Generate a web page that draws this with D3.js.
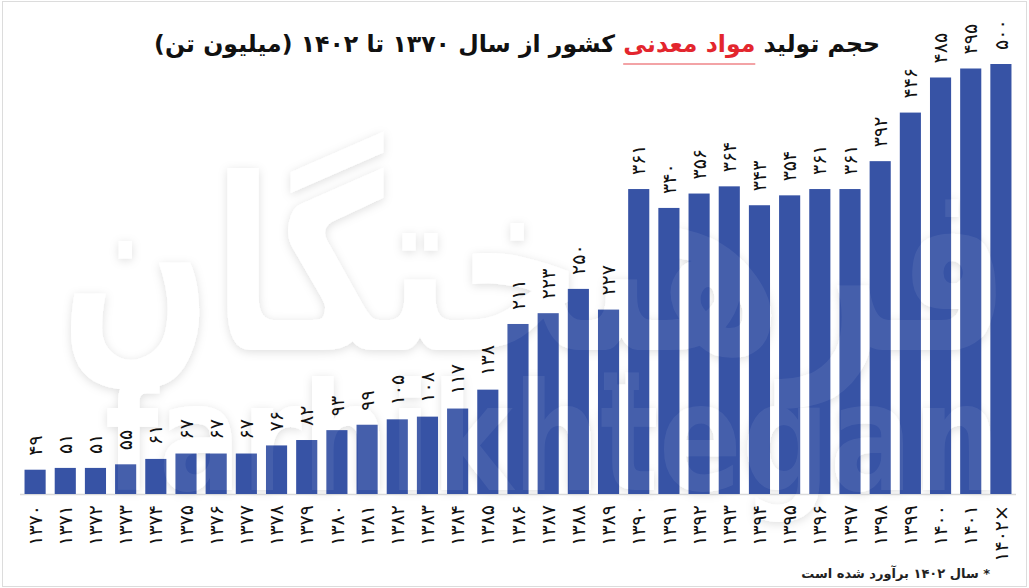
<!DOCTYPE html>
<html>
<head>
<meta charset="utf-8">
<script src="https://cdn.jsdelivr.net/npm/d3@7"></script>
<style>
  html, body { margin: 0; padding: 0; background: #fff; }
  svg { display: block; font-family: "DejaVu Sans", sans-serif; }
</style>
</head>
<body>
<svg id="chart" width="1029" height="588"></svg>
<script>
// years (x categories) and production, million tonnes
const years = [1370, 1371, 1372, 1373, 1374, 1375, 1376, 1377, 1378, 1379, 1380,
  1381, 1382, 1383, 1384, 1385, 1386, 1387, 1388, 1389, 1390, 1391, 1392,
  1393, 1394, 1395, 1396, 1397, 1398, 1399, 1400, 1401, 1402];
const values = [49, 51, 51, 55, 61, 67, 67, 67, 76, 82, 93,
  99, 105, 108, 117, 138, 211, 223, 250, 227, 361, 340, 356,
  364, 343, 354, 361, 361, 392, 446, 485, 495, 500];
const estimated = [1402];

const titleParts = [
  { text: 'حجم تولید ', red: false },
  { text: 'مواد معدنی', red: true },
  { text: ' کشور از سال ۱۳۷۰ تا ۱۴۰۲ (میلیون تن)', red: false }
];
const footnote = '* سال ۱۴۰۲  برآورد شده است';

const faDigits = '۰۱۲۳۴۵۶۷۸۹';
const toFa = n => String(n).replace(/[0-9]/g, d => faDigits[+d]);

const data = years.map((y, i) => ({ year: y, value: values[i] }));

const width = 1029, height = 588;
const svg = d3.select('#chart');

// frame
svg.append('rect')
  .attr('x', 2.5).attr('y', 1.5)
  .attr('width', width - 5).attr('height', height - 3)
  .attr('fill', '#fff')
  .attr('stroke', '#dcdcdc');

const defs = svg.append('defs');
defs.append('filter').attr('id', 'wmShadow')
  .attr('x', '-10%').attr('y', '-10%').attr('width', '120%').attr('height', '120%')
  .append('feDropShadow')
  .attr('dx', 0).attr('dy', 2).attr('stdDeviation', 5)
  .attr('flood-color', '#000').attr('flood-opacity', 0.13);

// scales
const x = d3.scaleBand()
  .domain(years)
  .range([20, 1016])
  .paddingInner(0.3)
  .paddingOuter(0.15);

const y = d3.scaleLinear()
  .domain([22, 500])
  .range([494, 64]);

// watermark behind the bars
function watermark(g) {
  g.append('text')
    .attr('x', 60).attr('y', 350)
    .attr('textLength', 950).attr('lengthAdjust', 'spacingAndGlyphs')
    .attr('font-size', 240).attr('font-weight', 'bold')
    .attr('fill', '#fff')
    .text('فرهیختگان');
  g.append('text')
    .attr('x', 105).attr('y', 490)
    .attr('textLength', 895).attr('lengthAdjust', 'spacingAndGlyphs')
    .attr('font-size', 150).attr('font-weight', 'bold')
    .attr('fill', '#fff')
    .text('farhikhtegan');
}
watermark(svg.append('g').attr('filter', 'url(#wmShadow)'));

// axis line
svg.append('line')
  .attr('x1', 20).attr('x2', 1016)
  .attr('y1', y.range()[0] + 0.5).attr('y2', y.range()[0] + 0.5)
  .attr('stroke', '#d9d9d9').attr('stroke-width', 1.5);

// bars
svg.append('g')
  .selectAll('rect')
  .data(data)
  .join('rect')
  .attr('x', d => x(d.year))
  .attr('width', x.bandwidth())
  .attr('y', d => y(d.value))
  .attr('height', d => y(22) - y(d.value))
  .attr('fill', '#3753a5');

// faint watermark over the bars
watermark(svg.append('g').attr('opacity', 0.07));

// value labels, rotated
svg.append('g')
  .selectAll('text')
  .data(data)
  .join('text')
  .attr('transform', d => `translate(${x(d.year) + x.bandwidth() / 2},${y(d.value) - 14}) rotate(-90)`)
  .attr('dy', '0.35em')
  .attr('text-anchor', 'start')
  .attr('font-size', 19)
  .attr('fill', '#111')
  .text(d => toFa(d.value));

// x tick labels, rotated
svg.append('g')
  .selectAll('text')
  .data(years)
  .join('text')
  .attr('transform', d => `translate(${x(d) + x.bandwidth() / 2},505) rotate(-90)`)
  .attr('dy', '0.35em')
  .attr('text-anchor', 'end')
  .attr('font-size', 19)
  .attr('fill', '#111')
  .text(d => toFa(d) + (estimated.includes(d) ? '×' : ''));

// title
const title = svg.append('text')
  .attr('x', 880).attr('y', 52)
  .attr('direction', 'rtl')
  .attr('text-anchor', 'start')
  .attr('font-size', 23.6)
  .attr('font-weight', 'bold')
  .attr('fill', '#111');
title.selectAll('tspan')
  .data(titleParts)
  .join('tspan')
  .attr('fill', d => d.red ? '#e3262e' : '#111')
  .text(d => d.text);

const redSpan = title.selectAll('tspan').filter(d => d.red).node();
let ux0 = 622, ux1 = 750;
try {
  const bb = redSpan.getBBox();
  if (bb.width > 0) { ux0 = bb.x; ux1 = bb.x + bb.width; }
} catch (e) {}
svg.append('line')
  .attr('x1', ux0).attr('x2', ux1)
  .attr('y1', 64).attr('y2', 64)
  .attr('stroke', '#f3a3a6').attr('stroke-width', 2);

// footnote
svg.append('text')
  .attr('x', 990).attr('y', 578)
  .attr('direction', 'rtl')
  .attr('text-anchor', 'start')
  .attr('font-size', 13)
  .attr('font-weight', 'bold')
  .attr('fill', '#222')
  .text(footnote);
</script>
</body>
</html>
